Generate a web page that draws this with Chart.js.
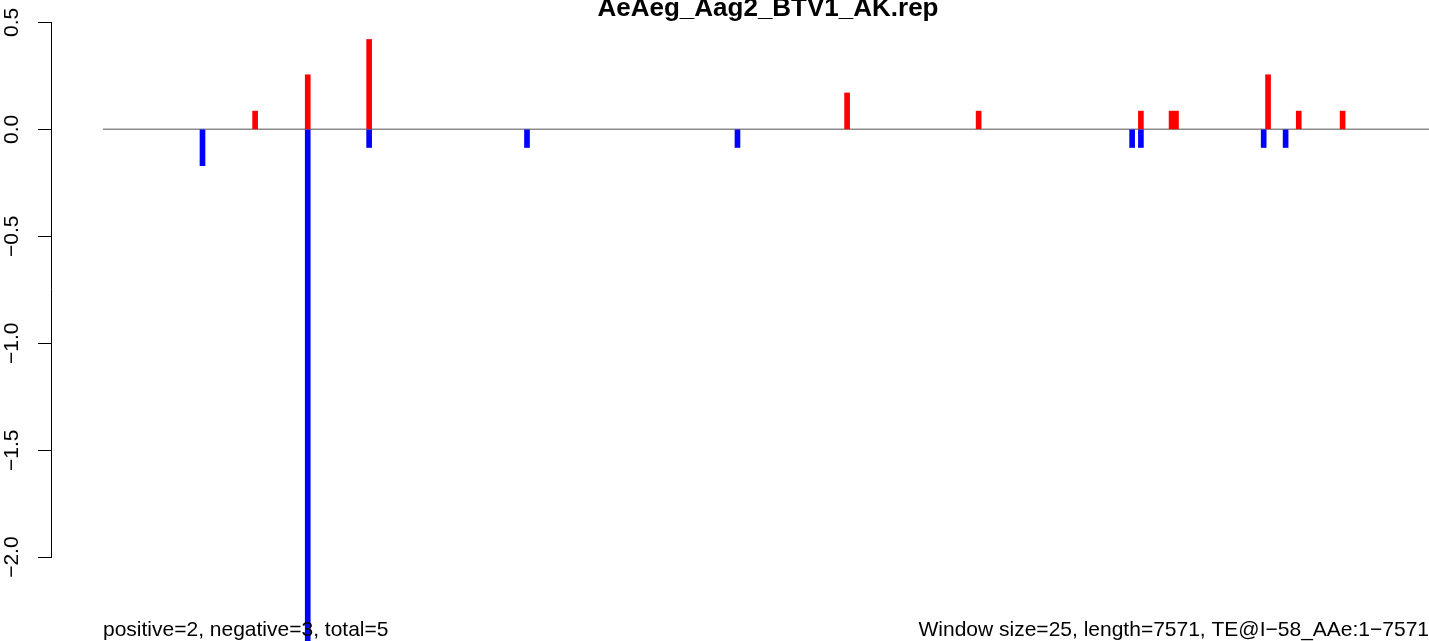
<!DOCTYPE html>
<html>
<head>
<meta charset="utf-8">
<script src="https://cdn.jsdelivr.net/npm/chart.js@4.4.0/dist/chart.umd.min.js"></script>
<style>
  html, body { margin: 0; padding: 0; background: #fff; }
  canvas { display: block; }
</style>
</head>
<body>
<canvas id="repChart" width="1429" height="641"></canvas>
<script>
// window index (25 nt windows) and score
var posWindows = [35, 47, 61, 170, 200, 237, 244, 245, 266, 273, 283];
var posValues = [0.085, 0.255, 0.42, 0.17, 0.085, 0.085, 0.085, 0.085, 0.255, 0.085, 0.085];
var negWindows = [23, 47, 61, 97, 145, 235, 237, 265, 270];
var negValues = [-0.17, -2.5, -0.085, -0.085, -0.085, -0.085, -0.085, -0.085, -0.085];
var yTicks = [-2.0, -1.5, -1.0, -0.5, 0.0, 0.5];

var titleText = "AeAeg_Aag2_BTV1_AK.rep";
var leftNote = "positive=2, negative=3, total=5";
var rightNote = "Window size=25, length=7571, TE@I\u221258_AAe:1\u22127571";

var FONT = "'Liberation Sans', Arial, Helvetica, sans-serif";

function toPoints(xs, ys) {
  var pts = [];
  for (var i = 0; i < xs.length; i++) {
    pts.push({ x: xs[i], y: ys[i] });
  }
  return pts;
}

var decorPlugin = {
  id: "decor",
  beforeDatasetsDraw: function (chart) {
    var ctx = chart.ctx;
    var x = chart.scales.x;
    var y = chart.scales.y;
    var area = chart.chartArea;
    var y0 = y.getPixelForValue(0);
    ctx.save();
    // zero line
    ctx.strokeStyle = "#8c8c8c";
    ctx.lineWidth = 1.5;
    ctx.beginPath();
    ctx.moveTo(x.getPixelForValue(0.3), y0);
    ctx.lineTo(area.right, y0);
    ctx.stroke();
    // axis line, only between first and last tick like R
    ctx.strokeStyle = "#000";
    ctx.lineWidth = 1;
    ctx.beginPath();
    ctx.moveTo(area.left - 0.5, y.getPixelForValue(yTicks[0]));
    ctx.lineTo(area.left - 0.5, y.getPixelForValue(yTicks[yTicks.length - 1]));
    ctx.stroke();
    ctx.restore();
  },
  afterDraw: function (chart) {
    var ctx = chart.ctx;
    ctx.save();
    ctx.fillStyle = "#000";
    ctx.textBaseline = "alphabetic";
    ctx.font = "bold 26px " + FONT;
    ctx.textAlign = "center";
    ctx.fillText(titleText, 768, 16);
    ctx.font = "21px " + FONT;
    ctx.textAlign = "left";
    ctx.fillText(leftNote, 103, 636);
    ctx.textAlign = "right";
    ctx.fillText(rightNote, 1429, 636);
    ctx.restore();
  }
};

var ctx = document.getElementById("repChart").getContext("2d");
var chart = new Chart(ctx, {
  type: "bar",
  data: {
    datasets: [
      {
        label: "positive",
        data: toPoints(posWindows, posValues),
        backgroundColor: "#ff0000",
        barThickness: 5,
        grouped: false
      },
      {
        label: "negative",
        data: toPoints(negWindows, negValues),
        backgroundColor: "#0000ff",
        barThickness: 5,
        grouped: false
      }
    ]
  },
  options: {
    responsive: false,
    animation: false,
    devicePixelRatio: 1,
    layout: { padding: 0 },
    plugins: {
      legend: { display: false },
      tooltip: { enabled: false }
    },
    scales: {
      x: {
        type: "linear",
        display: false,
        offset: false,
        min: -11.32,
        max: 302.7
      },
      y: {
        type: "linear",
        min: -2.392,
        max: 0.6045,
        afterFit: function (scale) {
          scale.width = 52;
          scale.paddingTop = 0;
          scale.paddingBottom = 0;
        },
        afterBuildTicks: function (scale) {
          scale.ticks = yTicks.map(function (v) { return { value: v }; });
        },
        border: { display: false },
        grid: {
          drawOnChartArea: false,
          drawTicks: true,
          tickLength: 14,
          color: "#000",
          lineWidth: 1
        },
        ticks: {
          minRotation: 90,
          maxRotation: 90,
          crossAlign: "center",
          padding: 5,
          color: "#000",
          font: { family: FONT, size: 21 },
          callback: function (v) {
            return Number(v).toFixed(1).replace("-", "\u2212");
          }
        }
      }
    }
  },
  plugins: [decorPlugin]
});
</script>
</body>
</html>
